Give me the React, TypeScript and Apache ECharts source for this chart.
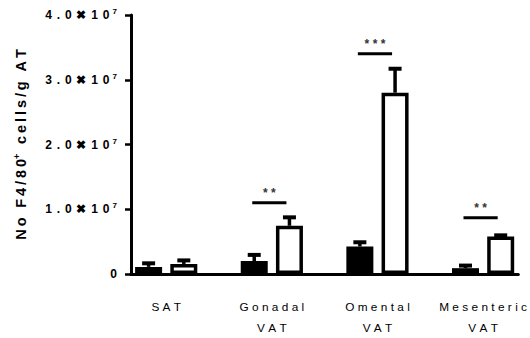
import { useEffect, useRef } from 'react';
import * as echarts from 'echarts';

const groupLabels = ['SAT', 'Gonadal\nVAT', 'Omental\nVAT', 'Mesenteric\nVAT'];
const controlMeans = [1.1e6, 2.0e6, 4.25e6, 0.9e6];
const controlUpper = [1.65e6, 2.95e6, 4.9e6, 1.3e6];
const treatedMeans = [1.55e6, 7.45e6, 2.8e7, 5.8e6];
const treatedUpper = [2.1e6, 8.75e6, 3.17e7, 5.97e6];
const yTicks = [0, 1e7, 2e7, 3e7, 4e7];
const sigGroups = [1, 2, 3];
const sigHeights = [1.1e7, 3.4e7, 8.7e6];
const sigLabels = ['**', '***', '**'];

const THIN = '\u2009';
const WIDE = '\u2009\u200A';
const WIDER = '\u2009\u2009';
const spaced = (s: string, gap: string) =>
  s.split('\n').map((l) => l.split('').join(gap)).join('\n');
const FONT = "'Liberation Sans', Arial, sans-serif";

export default function App() {
  const ref = useRef<HTMLDivElement>(null);
  useEffect(() => {
    if (!ref.current) return;
    const chart = echarts.init(ref.current, undefined, { renderer: 'svg' });

    const nPos = groupLabels.length * 3 - 1;
    const categories: string[] = [];
    const barData: any[] = [];
    for (let i = 0; i < nPos; i++) {
      const g = Math.floor(i / 3);
      const k = i % 3;
      categories.push(k === 2 ? '' : `${g}-${k}`);
      if (k === 2) barData.push('-');
      else
        barData.push({
          value: k === 0 ? controlMeans[g] : treatedMeans[g],
          itemStyle: { color: k === 0 ? '#000' : '#fff' },
        });
    }
    const errData: number[][] = [];
    groupLabels.forEach((_, g) => {
      errData.push([g * 3, controlMeans[g], controlUpper[g]]);
      errData.push([g * 3 + 1, treatedMeans[g], treatedUpper[g]]);
    });
    const sigData = sigGroups.map((g, i) => [g * 3, g * 3 + 1, sigHeights[i]]);

    const yMax = yTicks[yTicks.length - 1];
    const yInterval = yTicks[1] - yTicks[0];

    chart.setOption({
      animation: false,
      grid: { left: 131, right: 10, top: 15, bottom: 63 },
      xAxis: [
        {
          type: 'category',
          data: categories,
          boundaryGap: true,
          axisLine: { onZero: false, lineStyle: { color: '#000', width: 3 } },
          axisTick: { alignWithLabel: true, interval: 0, length: 7, lineStyle: { color: '#000', width: 2.5 } },
          axisLabel: { show: false },
        },
        {
          type: 'value',
          min: -0.5,
          max: nPos - 0.5,
          position: 'bottom',
          axisLine: { show: false, onZero: false },
          axisTick: { show: false },
          splitLine: { show: false },
          axisLabel: {
            customValues: groupLabels.map((_, g) => g * 3 + 0.5),
            formatter: (v: number) => spaced(groupLabels[Math.round((v - 0.5) / 3)] || '', WIDE),
            margin: 22,
            lineHeight: 21,
            fontSize: 11.8,
            color: '#000',
            fontFamily: FONT,
          },
        },
      ],
      yAxis: {
        type: 'value',
        min: 0,
        max: yMax,
        interval: yInterval,
        splitLine: { show: false },
        axisLine: { show: true, onZero: false, lineStyle: { color: '#000', width: 3 } },
        axisTick: { show: true, length: 6, lineStyle: { color: '#000', width: 2.5 } },
        axisLabel: {
          margin: 14,
          formatter: (v: number) =>
            v === 0 ? '{n|0}' : `{n|${spaced((v / 1e7).toFixed(1) + '\u271610', WIDER)}}{s|${WIDER}7}`,
          rich: {
            n: { fontSize: 12, fontWeight: 'bold', color: '#000', fontFamily: FONT },
            s: { fontSize: 8, fontWeight: 'bold', color: '#000', fontFamily: FONT, padding: [0, 0, 7, 0] },
          },
        },
        name: `{a|${spaced('No F4/80', THIN)}}{s|+}{a|${THIN}${spaced(' cells/g AT', THIN)}}`,
        nameLocation: 'middle',
        nameGap: 102,
        nameTextStyle: {
          rich: {
            a: { fontSize: 14.5, fontWeight: 'bold', color: '#000', fontFamily: FONT },
            s: { fontSize: 9, fontWeight: 'bold', color: '#000', fontFamily: FONT, padding: [0, 0, 8, 0] },
          },
        },
      },
      series: [
        {
          type: 'bar',
          xAxisIndex: 0,
          data: barData,
          barWidth: 27,
          itemStyle: { borderColor: '#000', borderWidth: 3.5 },
          z: 2,
        },
        {
          type: 'custom',
          xAxisIndex: 0,
          data: errData,
          encode: { x: 0, y: [1, 2] },
          z: 3,
          renderItem: (params: any, api: any) => {
            const x = api.value(0);
            const p0 = api.coord([x, api.value(1)]);
            const p1 = api.coord([x, api.value(2)]);
            return {
              type: 'group',
              children: [
                { type: 'line', shape: { x1: p0[0], y1: p0[1], x2: p1[0], y2: p1[1] }, style: { stroke: '#000', lineWidth: 3.5 } },
                { type: 'line', shape: { x1: p1[0] - 6.5, y1: p1[1], x2: p1[0] + 6.5, y2: p1[1] }, style: { stroke: '#000', lineWidth: 4 } },
              ],
            };
          },
        },
        {
          type: 'custom',
          xAxisIndex: 0,
          data: sigData,
          encode: { x: [0, 1], y: 2 },
          z: 3,
          renderItem: (params: any, api: any) => {
            const a = api.coord([api.value(0), api.value(2)]);
            const b = api.coord([api.value(1), api.value(2)]);
            const x1 = a[0] - 2;
            const x2 = b[0] - 3;
            return {
              type: 'group',
              children: [
                { type: 'line', shape: { x1, y1: a[1], x2, y2: a[1] }, style: { stroke: '#000', lineWidth: 3 } },
                {
                  type: 'text',
                  x: (x1 + x2) / 2,
                  y: a[1] - 4,
                  style: {
                    text: spaced(sigLabels[params.dataIndex], WIDE),
                    fill: '#333',
                    font: `bold 12px ${FONT}`,
                    align: 'center',
                    verticalAlign: 'bottom',
                  },
                },
              ],
            };
          },
        },
      ],
    });
    return () => chart.dispose();
  }, []);
  return <div ref={ref} style={{ position: 'absolute', left: 0, top: 0, width: 530, height: 338 }} />;
}
